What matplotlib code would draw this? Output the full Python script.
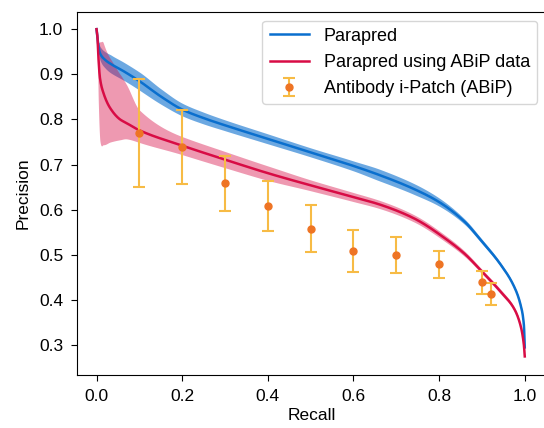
import matplotlib
import numpy as np

matplotlib.use('Agg')
import matplotlib.pyplot as plt  # noqa: E402

plt.rcParams['font.family'] = ['Liberation Sans', 'DejaVu Sans']

# Parapred (trained on Parapred data)
PP_RECALL = [0.0, 0.004, 0.008, 0.02, 0.035, 0.063, 0.1, 0.15, 0.2, 0.25,
             0.3, 0.4, 0.5, 0.6, 0.663, 0.741, 0.8, 0.86, 0.897, 0.944,
             0.975, 0.99, 0.998, 1.0]
PP_PREC = [1.0, 0.965, 0.947, 0.932, 0.922, 0.907, 0.885, 0.851, 0.822, 0.803,
           0.787, 0.757, 0.727, 0.697, 0.676, 0.646, 0.617, 0.573, 0.533,
           0.478, 0.43, 0.39, 0.344, 0.295]
PP_BAND = [0.0, 0.01, 0.015, 0.018, 0.02, 0.02, 0.02, 0.017, 0.014, 0.013,
           0.012, 0.011, 0.01, 0.011, 0.013, 0.012, 0.009, 0.006, 0.005,
           0.004, 0.003, 0.003, 0.002, 0.0]

# Parapred trained using ABiP data
AB_RECALL = [0.0, 0.002, 0.004, 0.008, 0.016, 0.032, 0.055, 0.07, 0.1, 0.2,
             0.3, 0.4, 0.5, 0.6, 0.663, 0.741, 0.819, 0.86, 0.897, 0.944,
             0.975, 0.99, 0.998, 1.0]
AB_PREC = [1.0, 0.985, 0.944, 0.892, 0.859, 0.825, 0.80, 0.792, 0.776, 0.742,
           0.711, 0.681, 0.654, 0.628, 0.611, 0.581, 0.533, 0.502, 0.466,
           0.418, 0.381, 0.344, 0.30, 0.275]
AB_BAND_LO = [0.0, 0.02, 0.1, 0.14, 0.115, 0.075, 0.045, 0.035, 0.027, 0.02,
              0.018, 0.016, 0.012, 0.01, 0.009, 0.008, 0.007, 0.006, 0.005,
              0.005, 0.004, 0.003, 0.002, 0.0]
AB_BAND_HI = [0.0, 0.01, 0.03, 0.08, 0.11, 0.11, 0.1, 0.085, 0.045, 0.02,
              0.018, 0.016, 0.012, 0.01, 0.009, 0.008, 0.007, 0.006, 0.005,
              0.005, 0.004, 0.003, 0.002, 0.0]

# Antibody i-Patch points with error bars
ABIP_RECALL = [0.1, 0.2, 0.3, 0.4, 0.5, 0.6, 0.7, 0.8, 0.9, 0.92]
ABIP_PREC = [0.77, 0.739, 0.659, 0.609, 0.558, 0.509, 0.499, 0.479, 0.439, 0.414]
ABIP_LOW = [0.650, 0.658, 0.597, 0.553, 0.507, 0.463, 0.459, 0.449, 0.413, 0.390]
ABIP_HIGH = [0.889, 0.820, 0.720, 0.664, 0.611, 0.556, 0.540, 0.509, 0.464, 0.438]

BLUE = '#0a6fce'
RED = '#d80c45'


def pchip(x, y, xn):
    """Monotone cubic (Fritsch-Carlson) interpolation, numpy only."""
    x = np.asarray(x, float)
    y = np.asarray(y, float)
    h = np.diff(x)
    d = np.diff(y) / h
    m = np.zeros_like(y)
    for k in range(1, len(x) - 1):
        if d[k - 1] * d[k] > 0:
            w1 = 2 * h[k] + h[k - 1]
            w2 = h[k] + 2 * h[k - 1]
            m[k] = (w1 + w2) / (w1 / d[k - 1] + w2 / d[k])
    m[0], m[-1] = d[0], d[-1]
    i = np.clip(np.searchsorted(x, xn) - 1, 0, len(h) - 1)
    t = (xn - x[i]) / h[i]
    h00 = 2 * t**3 - 3 * t**2 + 1
    h10 = t**3 - 2 * t**2 + t
    h01 = -2 * t**3 + 3 * t**2
    h11 = t**3 - t**2
    return h00 * y[i] + h10 * h[i] * m[i] + h01 * y[i + 1] + h11 * h[i] * m[i + 1]


fig = plt.figure(figsize=(5.44, 4.28), dpi=100)
ax = fig.add_axes([0.142, 0.124, 0.862, 0.849])

r = np.linspace(0, 1, 3000)
pp = pchip(PP_RECALL, PP_PREC, r)
pp_b = pchip(PP_RECALL, PP_BAND, r)
ab = pchip(AB_RECALL, AB_PREC, r)
ab_lo = pchip(AB_RECALL, AB_BAND_LO, r)
ab_hi = pchip(AB_RECALL, AB_BAND_HI, r)

ax.fill_between(r, pp - pp_b, pp + pp_b, color=BLUE, alpha=0.6, lw=0)
ax.fill_between(r, ab - ab_lo, ab + ab_hi, color=RED, alpha=0.42, lw=0)
ax.plot(r, pp, color=BLUE, lw=1.8, label='Parapred')
ax.plot(r, ab, color=RED, lw=1.8, label='Parapred using ABiP data')

prec = np.array(ABIP_PREC)
yerr = [prec - np.array(ABIP_LOW), np.array(ABIP_HIGH) - prec]
ax.errorbar(ABIP_RECALL, prec, yerr=yerr, fmt='o', color='#ee7424',
            ecolor='#f7bb45', elinewidth=1.5, capsize=4.5, capthick=1.5,
            markersize=5, label='Antibody i-Patch (ABiP)')

ax.set_xlim(-0.045, 1.05)
ax.set_ylim(0.234, 1.039)
ax.set_xticks([0.0, 0.2, 0.4, 0.6, 0.8, 1.0])
ax.set_yticks([0.3, 0.4, 0.5, 0.6, 0.7, 0.8, 0.9, 1.0])
ax.tick_params(labelsize=12.5, length=4, pad=6)
ax.set_xlabel('Recall', fontsize=12.5, labelpad=3)
ax.set_ylabel('Precision', fontsize=12.5, labelpad=6)
ax.legend(loc='upper right', fontsize=13, handlelength=2.2)

fig.savefig('out.png', dpi=100)
